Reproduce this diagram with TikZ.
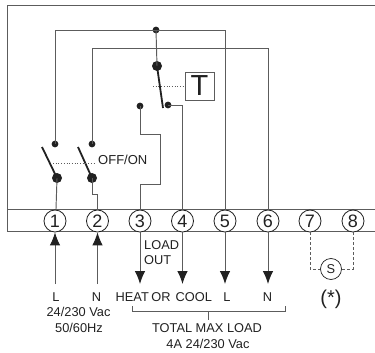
\documentclass[tikz,border=0pt]{standalone}
\usepackage{fontspec}
\setmainfont{Liberation Sans}
\usetikzlibrary{arrows.meta}
\definecolor{wire}{gray}{0.36}
\definecolor{ink}{gray}{0.13}
\tikzset{
  x=1pt,y=-1pt,
  wireline/.style={draw=wire,line width=0.95pt},
  frameline/.style={draw=wire,line width=0.95pt},
  term/.style={circle,draw=ink,fill=white,line width=0.8pt,minimum size=22pt,inner sep=0pt,font=\fontsize{18}{18}\selectfont,text=ink},
  bigdot/.style={circle,fill=ink,minimum size=10pt,inner sep=0pt},
  smalldot/.style={circle,fill=ink,minimum size=6.8pt,inner sep=0pt},
  blade/.style={draw=ink,line width=1.8pt},
  dotline/.style={draw=wire,line width=0.7pt,dotted},
  dashline/.style={draw=wire,line width=0.8pt,dash pattern=on 3pt off 2pt},
  flow/.style={wireline,-{Latex[length=13pt,width=10.5pt,color=ink]}},
  lab/.style={font=\fontsize{12.8}{12.8}\selectfont,text=ink,inner sep=0pt,anchor=center},
}
\begin{document}
\begin{tikzpicture}
\useasboundingbox (0,0) rectangle (375,353);
\fill[white] (0,0) rectangle (375,353);
% frame
\draw[frameline] (375,5.5) -- (7.5,5.5) -- (7.5,231.5) -- (375,231.5);
\draw[frameline] (7.5,209.5) -- (375,209.5);
% terminals
\foreach \n/\x in {1/55,2/97.5,3/140,4/182.5,5/225,6/268,7/310,8/353}
  \node[term] (t\n) at (\x,221) {\n};
% contacts
\node[smalldot] (a1) at (55,144) {};
\node[smalldot] (a2) at (92,144) {};
\node[bigdot] (b1) at (57,178) {};
\node[bigdot] (b2) at (92,178) {};
\coordinate (e1) at (42,147);
\coordinate (e2) at (78,147);
\node[smalldot] (top) at (156,30) {};
\node[bigdot] (th) at (157,66) {};
\coordinate (e3) at (163,108);
\node[smalldot] (c1) at (168,105) {};
\node[smalldot] (c2) at (140,106) {};
% wires
\draw[wireline] (a1.center) -- (55,30) -- (225,30) -- (t5.north);
\draw[wireline] (a2.center) -- (92,48) -- (268,48) -- (t6.north);
\draw[wireline] (top.center) -- (th.center);
\draw[wireline] (b1.center) -- (56,209);
\draw[wireline] (b2.center) -- (92,194) -- (97.5,194) -- (t2.north);
\draw[wireline] (c1.center) -- (182.5,105) -- (t4.north);
\draw[wireline] (c2.center) -- (140,134) -- (160,134) -- (160,184) -- (140,184) -- (t3.north);
% blades
\draw[blade] (b1.center) -- (e1);
\draw[blade] (b2.center) -- (e2);
\draw[blade] (th.center) -- (e3);
% T box
\node[draw=wire,line width=0.8pt,minimum width=29pt,minimum height=28pt,inner sep=0pt,font=\fontsize{29}{29}\selectfont,text=ink] (T) at (199.5,86) {T};
\draw[dotline] (153,86) -- (T.west);
% off/on
\node[lab,font=\fontsize{13}{13}\selectfont,anchor=west] (off) at (98,160) {OFF/ON};
\coordinate (d1) at (53,163.5);
\draw[dotline] (d1) -- (96,163.5);
% input arrows
\coordinate (f1) at (55,284); \coordinate (f2) at (97.5,284);
\coordinate (g3) at (140,284); \coordinate (g4) at (182.5,284);
\coordinate (g5) at (225,284); \coordinate (g6) at (268,284);
\draw[flow] (f1) -- (t1.south);
\draw[flow] (f2) -- (t2.south);
\draw[flow] (t3.south) -- (g3);
\draw[flow] (t4.south) -- (g4);
\draw[flow] (t5.south) -- (g5);
\draw[flow] (t6.south) -- (g6);
% sensor
\node[circle,draw=ink,line width=0.7pt,minimum size=21pt,inner sep=0pt,font=\fontsize{12.8}{12.8}\selectfont,text=ink] (S) at (331,269) {S};
\draw[dashline] (t7.south) -- (310,269) -- (S.west);
\draw[dashline] (t8.south) -- (353,269) -- (S.east);
% bracket
\coordinate (k1) at (132,306); \coordinate (k2) at (285,306);
\draw[wireline] (k1) -- (132,311) -- (285,311) -- (k2);
\coordinate (k3) at (208,311); \coordinate (k4) at (208,320);
\draw[wireline] (k3) -- (k4);
% labels
\node[lab,anchor=west] (lo1) at (144,245) {LOAD};
\node[lab,anchor=west] (lo2) at (144,260) {OUT};
\node[lab] (l1) at (56,297) {L};
\node[lab] (l2) at (96.5,297) {N};
\node[lab] (l3) at (78.5,312) {24/230 Vac};
\node[lab] (l4) at (79,328) {50/60Hz};
\node[lab,anchor=west] (l5) at (115.5,297) {HEAT\hspace{2.5pt}OR};
\node[lab,anchor=west] (l6) at (175.5,297) {COOL};
\node[lab] (l7) at (227,297) {L};
\node[lab] (l8) at (267.5,297) {N};
\node[lab] (l9) at (207,328) {TOTAL MAX LOAD};
\node[lab] (l10) at (208,344) {4A 24/230 Vac};
\node[lab,font=\fontsize{20}{20}\selectfont] (l11) at (331,299) {(*)};
\end{tikzpicture}
\end{document}
